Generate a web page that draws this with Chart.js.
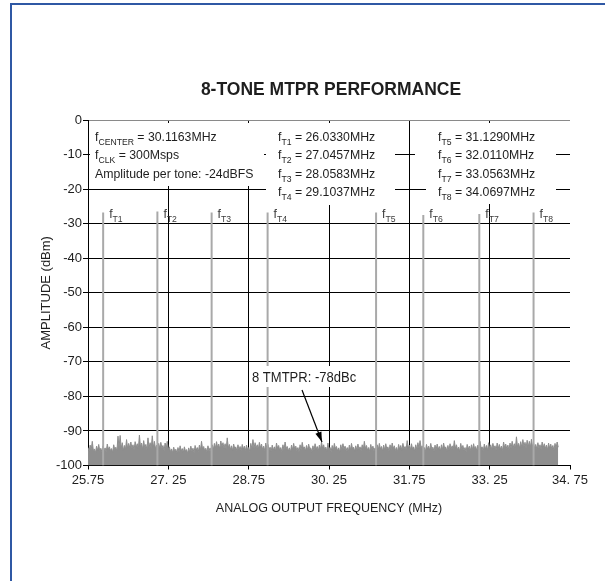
<!DOCTYPE html>
<html>
<head>
<meta charset="utf-8">
<script src="https://cdn.jsdelivr.net/npm/chart.js@4.4.1/dist/chart.umd.min.js"></script>
<style>
  html, body { margin: 0; padding: 0; background: #ffffff; }
  #wrap { position: relative; width: 605px; height: 581px; }
  #frame { position: absolute; left: 10px; top: 3px; right: 0; bottom: 0;
           border-left: 2px solid #2f58a4; border-top: 2px solid #2f58a4; pointer-events: none; }
</style>
</head>
<body>
<div id="wrap">
  <canvas id="c" width="605" height="581"></canvas>
  <div id="frame"></div>
</div>
<script>
// Spectrum bins: first bin frequency (MHz) and bin spacing (MHz)
const bandStart = 25.75;
const binStep = 0.02;

// Noise floor level per bin (dBm)
const noiseDbm = [
  -94.8,-95.9,-94.1,-95.4,-93.0,-95.7,-95.2,-96.3,-94.4,-95.6,-93.9,-95.8,-95.0,-96.1,-94.3,-95.5,-94.9,-96.0,-93.8,-95.3,
  -94.6,-95.7,-95.1,-96.2,-94.0,-95.4,-94.7,-95.9,-91.5,-94.8,-91.3,-95.0,-93.4,-95.6,-94.2,-95.3,-92.5,-95.1,-93.6,-94.9,
  -93.2,-95.0,-94.0,-95.5,-93.1,-94.7,-93.7,-95.2,-91.2,-94.6,-93.5,-95.3,-92.8,-94.9,-93.9,-95.4,-92.0,-94.8,-93.4,-95.1,
  -91.4,-94.7,-93.0,-95.2,-94.1,-95.6,-93.6,-95.0,-93.3,-94.9,-94.2,-95.7,-93.5,-95.1,-93.0,-95.4,-94.6,-96.0,-95.2,-96.3,
  -94.7,-95.9,-95.3,-96.4,-94.8,-96.0,-94.3,-95.8,-95.1,-96.2,-94.6,-95.9,-95.4,-96.5,-94.9,-96.1,-94.4,-95.7,-95.0,-96.3,
  -94.2,-95.6,-94.8,-96.0,-94.1,-95.5,-93.0,-95.3,-94.5,-95.8,-95.0,-96.2,-94.3,-95.7,-94.9,-96.0,-94.0,-95.4,-93.6,-95.0,
  -93.1,-94.8,-93.8,-95.2,-92.9,-94.6,-93.4,-95.0,-93.7,-95.3,-92.0,-94.9,-93.9,-95.4,-94.3,-95.6,-93.8,-95.1,-94.6,-95.8,
  -94.0,-95.4,-94.5,-95.8,-93.9,-95.3,-94.4,-95.7,-94.1,-95.5,-94.8,-96.0,-93.6,-95.2,-92.5,-95.0,-93.4,-94.9,-94.0,-95.3,
  -93.3,-94.9,-93.8,-95.4,-94.4,-95.7,-93.5,-95.1,-93.9,-95.5,-94.7,-95.9,-94.1,-95.6,-94.6,-95.8,-93.5,-95.0,-94.2,-95.6,
  -94.8,-96.0,-94.0,-95.5,-93.2,-95.1,-94.5,-95.8,-94.9,-96.1,-94.1,-95.4,-93.6,-95.2,-94.4,-95.7,-94.8,-96.0,-94.0,-95.5,
  -93.3,-95.0,-94.6,-95.8,-94.2,-95.5,-93.8,-95.2,-94.9,-96.1,-94.3,-95.6,-93.7,-95.3,-94.5,-95.8,-94.1,-95.4,-93.2,-95.0,
  -94.0,-95.5,-94.7,-95.9,-93.5,-95.2,-94.8,-96.0,-94.2,-95.6,-93.6,-95.1,-94.5,-95.8,-94.9,-96.1,-94.0,-95.4,-93.7,-95.2,
  -94.4,-95.7,-94.8,-96.0,-94.1,-95.5,-93.6,-95.2,-94.7,-95.9,-94.3,-95.6,-93.8,-95.3,-94.6,-95.8,-94.0,-95.4,-93.0,-95.1,
  -94.2,-95.6,-94.8,-96.0,-93.9,-95.4,-94.4,-95.7,-94.9,-96.1,-94.0,-95.5,-93.6,-95.2,-94.5,-95.8,-94.1,-95.5,-93.7,-95.3,
  -94.6,-95.9,-94.0,-95.4,-93.5,-95.1,-94.3,-95.7,-94.8,-96.0,-93.9,-95.3,-94.2,-95.6,-93.6,-95.2,-94.5,-95.5,-92.8,-95.0,
  -94.1,-95.5,-93.7,-95.2,-94.6,-95.9,-94.0,-95.4,-93.4,-95.0,-92.8,-94.9,-94.3,-95.7,-94.8,-96.0,-93.9,-95.3,-94.4,-95.6,
  -93.6,-95.2,-94.7,-95.9,-94.1,-95.5,-93.8,-95.3,-94.5,-95.8,-94.0,-95.4,-93.5,-95.1,-94.6,-95.9,-94.2,-95.6,-93.7,-95.2,
  -94.3,-95.4,-92.8,-95.0,-94.0,-95.5,-94.7,-95.9,-93.6,-95.2,-94.2,-95.6,-94.8,-96.0,-93.9,-95.3,-94.4,-95.7,-94.0,-95.4,
  -93.7,-95.2,-94.5,-95.8,-94.1,-95.4,-93.0,-95.0,-94.6,-95.9,-93.8,-95.3,-94.2,-95.6,-93.4,-95.1,-94.0,-95.4,-93.6,-95.0,
  -94.3,-95.6,-93.5,-95.1,-93.9,-95.3,-94.4,-95.7,-93.2,-94.9,-93.8,-95.2,-94.1,-95.5,-93.5,-95.0,-93.0,-94.8,-93.7,-95.1,
  -91.7,-94.6,-93.6,-95.0,-93.1,-94.7,-92.5,-94.5,-93.3,-94.9,-92.7,-94.6,-93.0,-94.8,-92.4,-94.5,-93.5,-95.0,-93.9,-95.2,
  -93.4,-94.9,-94.0,-95.4,-93.2,-94.8,-93.7,-95.1,-94.1,-95.5,-93.5,-95.0,-93.8,-95.2,-94.2,-95.6,-93.6,-95.0,-93.2,-94.7
];

// The eight test tones
const toneNames = ['T1','T2','T3','T4','T5','T6','T7','T8'];
const toneFreqs = [26.0330, 27.0457, 28.0583, 29.1037, 31.1290, 32.0110, 33.0563, 34.0697];
const toneDbm   = [-26.8, -26.5, -26.8, -26.8, -26.8, -27.5, -27.2, -26.8];

// Axis ticks
const xTickValues = [25.75, 27.25, 28.75, 30.25, 31.75, 33.25, 34.75];
const xTickLabels = ['25.75', '27. 25', '28.75', '30. 25', '31.75', '33. 25', '34. 75'];
const yTickValues = [0, -10, -20, -30, -40, -50, -60, -70, -80, -90, -100];
const yTickLabels = ['0', '-10', '-20', '-30', '-40', '-50', '-60', '-70', '-80', '-90', '-100'];

// Annotation text
const titleText = '8-TONE MTPR PERFORMANCE';
const setupLines = [
  [['f'], ['CENTER', 1], [' = 30.1163MHz']],
  [['f'], ['CLK', 1], [' = 300Msps']],
  [['Amplitude per tone: -24dBFS']]
];
const mtprText = '8 TMTPR: -78dBc';

const SANS = "'Liberation Sans', Arial, sans-serif";
const TXT = '#1e1e1e';
const SQUEEZE = 0.91;   // horizontal condensing for the annotation text

const noisePoints = noiseDbm.map((v, i) => ({ x: +(bandStart + i * binStep).toFixed(3), y: v }));
const tonePoints = [];
toneFreqs.forEach((f, i) => {
  tonePoints.push({ x: f, y: -100 }, { x: f, y: toneDbm[i] }, { x: f, y: null });
});

// Draws a run of text pieces; pieces flagged 1 are set as subscripts
function drawRich(ctx, x, y, parts, size, subSize, color, sx) {
  ctx.save();
  ctx.translate(x, y);
  ctx.scale(sx, 1);
  ctx.fillStyle = color;
  ctx.textAlign = 'left';
  ctx.textBaseline = 'alphabetic';
  let cx = 0;
  parts.forEach(p => {
    const sub = p[1] === 1;
    ctx.font = (sub ? subSize : size) + 'px ' + SANS;
    ctx.fillText(p[0], cx, sub ? 4 : 0);
    cx += ctx.measureText(p[0]).width;
  });
  ctx.restore();
}

const annotations = {
  id: 'annotations',
  afterDraw(chart) {
    const ctx = chart.ctx;
    const xs = chart.scales.x, ys = chart.scales.y;
    ctx.save();

    // title
    ctx.fillStyle = TXT;
    ctx.font = 'bold 17.5px ' + SANS;
    ctx.textAlign = 'center';
    ctx.textBaseline = 'alphabetic';
    ctx.fillText(titleText, 331, 95);

    // white backing for the text blocks
    ctx.fillStyle = '#ffffff';
    ctx.fillRect(90, 123, 174, 63);
    ctx.fillRect(266, 123, 129, 82);
    ctx.fillRect(415, 123, 141, 63);
    ctx.fillRect(426, 186, 130, 18);
    ctx.fillRect(249, 366, 111, 21);

    const lh = 18.4, base = 141;
    setupLines.forEach((parts, i) => drawRich(ctx, 95, base + i * lh, parts, 13.5, 9.5, TXT, SQUEEZE));

    // tone frequency list, two columns of four
    toneNames.forEach((n, i) => {
      const col = i < 4 ? 278 : 438;
      const row = i % 4;
      drawRich(ctx, col, base + row * lh,
        [['f'], [n, 1], [' = ' + toneFreqs[i].toFixed(4) + 'MHz']], 13.5, 9.5, TXT, SQUEEZE);
    });

    // tone labels beside each tone
    toneNames.forEach((n, i) => {
      const px = xs.getPixelForValue(toneFreqs[i]);
      drawRich(ctx, px + 6, ys.getPixelForValue(-28.4), [['f'], [n, 1]], 13.5, 9.5, '#3c3c3c', SQUEEZE);
    });

    // MTPR callout with arrow
    drawRich(ctx, 252, 382, [[mtprText]], 14, 9.5, TXT, 0.93);
    const x0 = 302, y0 = 390, x1 = 322, y1 = 442;
    ctx.strokeStyle = '#000';
    ctx.lineWidth = 1.2;
    ctx.beginPath();
    ctx.moveTo(x0, y0);
    ctx.lineTo(x1, y1);
    ctx.stroke();
    const ang = Math.atan2(y1 - y0, x1 - x0);
    const hl = 10, hw = 3.2;
    ctx.fillStyle = '#000';
    ctx.beginPath();
    ctx.moveTo(x1, y1);
    ctx.lineTo(x1 - hl * Math.cos(ang) + hw * Math.sin(ang), y1 - hl * Math.sin(ang) - hw * Math.cos(ang));
    ctx.lineTo(x1 - hl * Math.cos(ang) - hw * Math.sin(ang), y1 - hl * Math.sin(ang) + hw * Math.cos(ang));
    ctx.closePath();
    ctx.fill();

    ctx.restore();
  }
};

new Chart(document.getElementById('c'), {
  type: 'scatter',
  data: {
    datasets: [
      {
        label: 'Tones',
        data: tonePoints,
        showLine: true,
        spanGaps: false,
        borderColor: '#a9a9a9',
        borderWidth: 2,
        pointRadius: 0,
        fill: false,
        order: 0
      },
      {
        label: 'Spectrum',
        data: noisePoints,
        showLine: true,
        borderColor: '#8e8e8e',
        backgroundColor: '#8e8e8e',
        borderWidth: 1,
        pointRadius: 0,
        tension: 0,
        fill: 'start',
        order: 1
      }
    ]
  },
  options: {
    responsive: false,
    animation: false,
    events: [],
    layout: { padding: { left: 36, right: 35, top: 120, bottom: 65 } },
    plugins: { legend: { display: false }, tooltip: { enabled: false }, title: { display: false } },
    scales: {
      x: {
        type: 'linear',
        min: 25.75,
        max: 34.75,
        afterBuildTicks: s => { s.ticks = xTickValues.map(v => ({ value: v })); },
        afterFit: s => { s.height = 50.5; },
        ticks: {
          autoSkip: false,
          maxRotation: 0,
          padding: 3,
          color: TXT,
          font: { family: SANS, size: 13 },
          callback: (v, i) => xTickLabels[i]
        },
        grid: {
          color: c => (c.tick && c.tick.value === 34.75) ? 'rgba(0,0,0,0)' : '#000',
          lineWidth: 1,
          tickLength: 4,
          tickColor: '#000'
        },
        border: { color: '#000', width: 1 },
        title: {
          display: true,
          text: 'ANALOG OUTPUT FREQUENCY (MHz)',
          color: TXT,
          font: { family: SANS, size: 12.5 },
          padding: { top: 0, bottom: 0 }
        }
      },
      y: {
        type: 'linear',
        min: -100,
        max: 0,
        afterBuildTicks: s => { s.ticks = yTickValues.map(v => ({ value: v })); },
        afterFit: s => { s.width = 52; },
        ticks: {
          padding: 1,
          color: TXT,
          font: { family: SANS, size: 13 },
          callback: (v, i) => yTickLabels[i]
        },
        grid: {
          color: c => (c.tick && c.tick.value === 0) ? '#8a8a8a' : '#000',
          lineWidth: 1,
          tickLength: 5,
          tickColor: '#000'
        },
        border: { color: '#000', width: 1 },
        title: {
          display: true,
          text: 'AMPLITUDE (dBm)',
          color: TXT,
          font: { family: SANS, size: 13 },
          padding: { top: 3, bottom: 0 }
        }
      }
    }
  },
  plugins: [annotations]
});
</script>
</body>
</html>
